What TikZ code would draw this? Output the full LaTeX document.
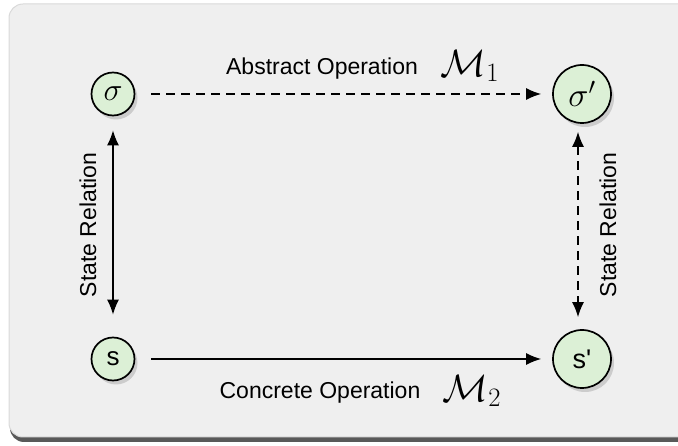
\RequirePackage{fix-cm}
\documentclass[tikz,border=0pt]{standalone}
\usepackage{fontspec}
\setsansfont{Liberation Sans}
\usetikzlibrary{shadows,arrows.meta,positioning}
\definecolor{panel}{HTML}{EFEFEF}
\definecolor{nodefill}{HTML}{DCF0D6}
\begin{document}
\begin{tikzpicture}[x=1pt,y=-1pt,
  state/.style={circle,draw=black,line width=1.7pt,fill=nodefill,inner sep=0pt,
    drop shadow={shadow xshift=3pt,shadow yshift=-4pt,opacity=0.25,fill=black!60}},
  conn/.style={line width=1.4pt,-{Latex[length=15pt,width=12pt]}},
  dconn/.style={line width=1.4pt,{Latex[length=15pt,width=12pt]}-{Latex[length=15pt,width=12pt]}},
  lbl/.style={font=\fontsize{23pt}{26pt}\sffamily},
  mlbl/.style={font=\fontsize{38pt}{40pt}\selectfont}]
\useasboundingbox (0,0) rectangle (678,446);
% panel
\fill[black!65,rounded corners=14pt] (10,10) rectangle (700,442);
\draw[draw=black!15,fill=panel,line width=1pt,rounded corners=14pt] (9,4) rectangle (700,437);
% nodes
\node[state,minimum size=43pt] (sig) at (113,94) {\fontsize{32pt}{34pt}\selectfont$\sigma$};
\node[state,minimum size=58pt] (sigp) at (582,94) {\fontsize{34pt}{36pt}\selectfont$\sigma'$};
\node[state,minimum size=43pt] (s) at (113,359) {\fontsize{26pt}{28pt}\sffamily s};
\node[state,minimum size=58pt] (sp) at (582,359) {\fontsize{27pt}{29pt}\sffamily s\textquotesingle};
% connectors
\draw[conn,dash pattern=on 9pt off 6pt] ([xshift=16pt]sig.east) -- ([xshift=-11pt]sigp.west);
\draw[conn] ([xshift=16pt]s.east) -- ([xshift=-11pt]sp.west);
\draw[dconn] ([yshift=-14pt]sig.south) -- ([yshift=22pt]s.north);
\draw[dconn,dash pattern=on 9pt off 6pt] ([xshift=-4pt,yshift=-8pt]sigp.south) -- ([xshift=-4pt,yshift=12pt]sp.north);
% labels
\node[lbl] (ta) at (322,69) {Abstract Operation};
\node[mlbl] (tm1) at (470,66) {$\mathcal{M}_1$};
\node[lbl] (tc) at (320,393) {Concrete Operation};
\node[mlbl] (tm2) at (472,391) {$\mathcal{M}_2$};
\node[lbl,rotate=90] (rl) at (88,225) {State Relation};
\node[lbl,rotate=90] (rr) at (608,225) {State Relation};
\end{tikzpicture}
\end{document}
